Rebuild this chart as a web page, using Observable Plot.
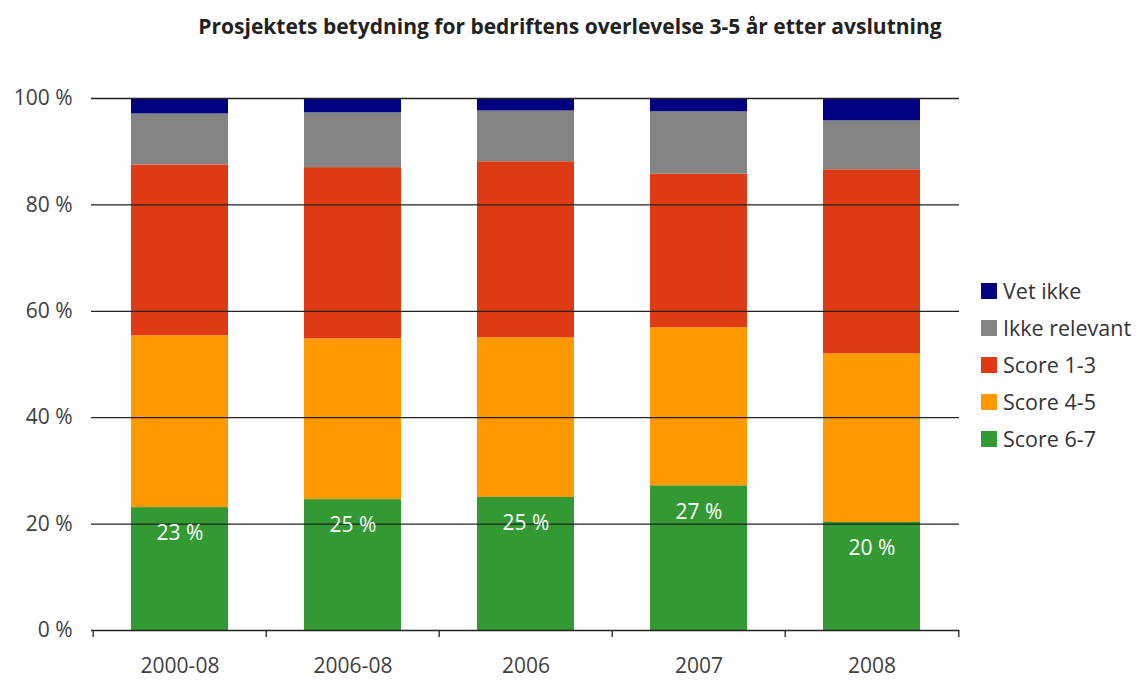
<!DOCTYPE html>
<html>
<head>
<meta charset="utf-8">
<script src="https://cdn.jsdelivr.net/npm/d3@7"></script>
<script src="https://cdn.jsdelivr.net/npm/@observablehq/plot@0.6"></script>
<style>
  body { margin: 0; background: #fff; font-family: "Open Sans", sans-serif; }
  #wrap { position: relative; width: 1140px; height: 680px; }
  #title { position: absolute; left: 0; width: 1140px; top: 12px; text-align: center; font-weight: bold; font-size: 21px; color: #222; }
  #chart { position: absolute; left: 0; top: 0; }
  #legend { position: absolute; left: 981px; top: 272px; }
  .item { display: flex; align-items: center; height: 37px; font-size: 21.5px; color: #333; white-space: nowrap; }
  .sw { width: 16px; height: 16px; margin-right: 6px; }
</style>
</head>
<body>
<div id="wrap">
  <div id="chart"></div>
  <div id="title">Prosjektets betydning for bedriftens overlevelse 3-5 år etter avslutning</div>
  <div id="legend"></div>
</div>
<script>
const categories = ["2000-08", "2006-08", "2006", "2007", "2008"];
const seriesNames = ["Score 6-7", "Score 4-5", "Score 1-3", "Ikke relevant", "Vet ikke"];
const seriesColors = ["#339933", "#ff9900", "#de3a13", "#848484", "#000080"];
const score67 = [23.1, 24.6, 25.0, 27.2, 20.3];
const score45 = [32.3, 30.2, 30.0, 29.7, 31.7];
const score13 = [32.1, 32.2, 33.1, 28.9, 34.6];
const ikkeRelevant = [9.6, 10.3, 9.55, 11.7, 9.2];
const vetIkke = [2.9, 2.7, 2.35, 2.5, 4.2];
const yTicks = [0, 20, 40, 60, 80, 100];

const seriesValues = [score67, score45, score13, ikkeRelevant, vetIkke];
const rows = [];
seriesNames.forEach((s, i) => categories.forEach((c, j) => rows.push({cat: c, series: s, value: seriesValues[i][j]})));
const greenRows = categories.map((c, j) => ({cat: c, value: score67[j]}));

const W = 1140, H = 680, ML = 91, MR = 181, MT = 98, MB = 50;
const step = (W - ML - MR) / categories.length;
const fontStack = "'Open Sans', sans-serif";

const chart = Plot.plot({
  width: W, height: H,
  marginLeft: ML, marginRight: MR, marginTop: MT, marginBottom: MB,
  style: {fontFamily: fontStack, fontSize: "21px", color: "#404040", background: "transparent"},
  x: {domain: categories, paddingInner: 0.44, paddingOuter: 0.22, label: null},
  y: {domain: [0, 100], ticks: yTicks, label: null},
  color: {domain: seriesNames, range: seriesColors},
  marks: [
    Plot.barY(rows, {x: "cat", y: "value", fill: "series", order: seriesNames}),
    Plot.ruleY(yTicks, {stroke: "#222", strokeWidth: 1.3}),
    Plot.ruleX(categories, {x: d => d, dx: -step / 2, y1: 0, y2: -1.3, stroke: "#222", strokeWidth: 1.3}),
    Plot.ruleX([categories[categories.length - 1]], {x: d => d, dx: step / 2, y1: 0, y2: -1.3, stroke: "#222", strokeWidth: 1.3}),
    Plot.text(greenRows, {x: "cat", y: "value", text: d => Math.round(d.value) + " %", dy: 26, fill: "white", fontSize: 21}),
    Plot.axisY({ticks: yTicks, tickSize: 0, tickPadding: 19, tickFormat: d => d + " %", fontSize: 21, fill: "#404040"}),
    Plot.axisX({tickSize: 0, tickPadding: 28, fontSize: 21, fill: "#404040"})
  ]
});
document.getElementById("chart").appendChild(chart);

const legend = document.getElementById("legend");
for (let i = seriesNames.length - 1; i >= 0; i--) {
  const it = document.createElement("div");
  it.className = "item";
  const sw = document.createElement("div");
  sw.className = "sw";
  sw.style.background = seriesColors[i];
  const t = document.createElement("span");
  t.textContent = seriesNames[i];
  it.appendChild(sw); it.appendChild(t);
  legend.appendChild(it);
}
</script>
</body>
</html>
